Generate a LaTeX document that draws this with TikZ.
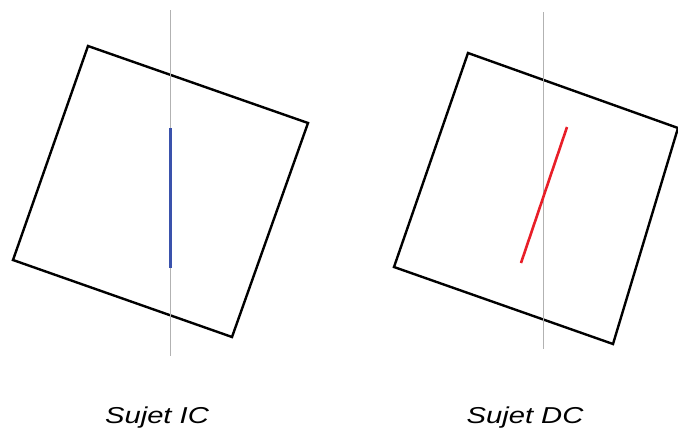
\documentclass[tikz,border=0pt]{standalone}
\usepackage{fontspec}
\setmainfont{Liberation Sans}
\definecolor{icblue}{RGB}{58,82,172}
\definecolor{dcred}{RGB}{232,30,40}
\tikzset{
    frame/.style={draw=black,line width=2.4pt,line join=miter},
    axis/.style={draw=black!30,line width=1pt},
    label/.style={font=\fontsize{23}{28}\selectfont\itshape,inner sep=0pt,anchor=base}
}

\begin{document}
\begin{tikzpicture}[x=1pt,y=-1pt]
        \useasboundingbox (0,0) rectangle (678,432);
        % left square
        \coordinate (a1) at (88,46);
        \coordinate (a2) at (308,123);
        \coordinate (a3) at (232,337);
        \coordinate (a4) at (13,260);
        % right square
        \coordinate (b1) at (468,53);
        \coordinate (b2) at (678,128);
        \coordinate (b3) at (613,344);
        \coordinate (b4) at (394,267);
        \foreach \s in {a,b}{
            \draw[frame] (\s1) -- (\s2) -- (\s3) -- (\s4) -- cycle;
        }

        % vertical axes
        \coordinate (ia) at (170,10);
        \coordinate (ib) at (170,356);
        \coordinate (da) at (543,12);
        \coordinate (db) at (543,349);
        \draw[axis] (ia) -- (ib);
        \draw[axis] (da) -- (db);

        % segments
        \coordinate (ic1) at (170,128);
        \coordinate (ic2) at (170,268);
        \coordinate (dc1) at (567,127);
        \coordinate (dc2) at (521,263);
        \draw[icblue,line width=3pt] (ic1) -- (ic2);
        \draw[dcred,line width=2.6pt] (dc1) -- (dc2);

        \node[label] (ic) at (157,423) {\scalebox{1.27}[1]{Sujet IC}};
        \node[label] (dc) at (525,423) {\scalebox{1.27}[1]{Sujet DC}};
    \end{tikzpicture}
\end{document}
